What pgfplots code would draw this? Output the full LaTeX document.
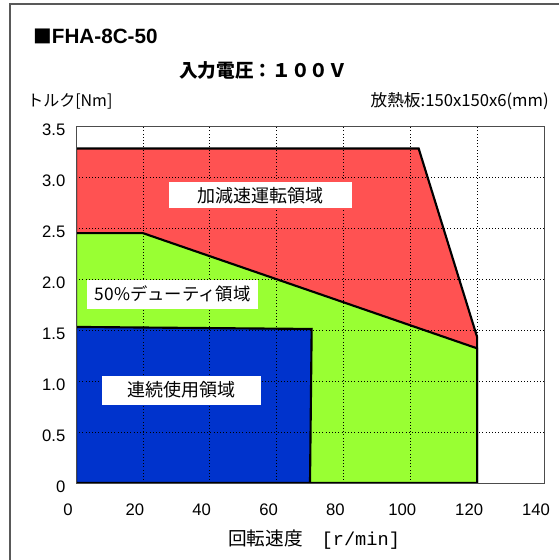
\documentclass[border=0pt]{standalone}
\usepackage{fontspec}
\setmainfont{Liberation Sans}
\newfontfamily\jp{Noto Sans CJK JP}
\newfontfamily\mono{Liberation Mono}
\usepackage{pgfplots}
\pgfplotsset{compat=1.18}
\definecolor{rred}{RGB}{255,82,82}
\definecolor{rgreen}{RGB}{153,255,51}
\definecolor{rblue}{RGB}{0,51,204}
\begin{document}
\begin{tikzpicture}[x=0.75pt,y=0.75pt]
\path[use as bounding box] (0,0) rectangle (559,560);
\draw[black!65, line width=0.8pt] (10,0) -- (10,556) -- (559,556);
\begin{axis}[at={(57pt,57.75pt)}, anchor=south west,
  scale only axis, width=351pt, height=267.75pt,
  xmin=0, xmax=140, ymin=0, ymax=3.5,
  xtick={0,20,...,140}, ytick={0,0.5,...,3.5},
  yticklabels={0,0.5,1.0,1.5,2.0,2.5,3.0,3.5},
  major tick length=0pt,
  grid=major, major grid style={black, dotted, line width=0.5pt},
  axis line style={black!70, line width=0.7pt},
  axis on top,
  /pgf/number format/assume math mode=true,
  tick label style={font=\fontsize{12.5}{14}\selectfont},
  xticklabel style={xshift=-6pt, yshift=-12pt},
  yticklabel style={xshift=-4.5pt, yshift=-3pt},
]
\addplot[fill=rred, draw=black, line width=1.6pt] coordinates {(0,0) (0,3.28) (102.5,3.28) (120,1.43) (120,0)} -- cycle;
\addplot[fill=rgreen, draw=black, line width=1.6pt] coordinates {(0,0) (0,2.45) (20,2.45) (120,1.32) (120,0)} -- cycle;
\addplot[fill=rblue, draw=black, line width=1.6pt] coordinates {(0,0) (0,1.53) (70.5,1.51) (70,0)} -- cycle;
\coordinate (lr) at (axis cs:55.2,2.82);
\coordinate (lg) at (axis cs:28.9,1.85);
\coordinate (lb) at (axis cs:31.6,0.91);
\end{axis}
\node[fill=white, minimum width=137pt, minimum height=19.5pt, inner sep=0pt, font=\jp\fontsize{13.5}{15}\selectfont] at (lr) {加減速運転領域};
\node[fill=white, minimum width=128pt, minimum height=21.75pt, inner sep=0pt, font=\jp\fontsize{13}{15}\selectfont] at (lg) {50\%デューティ領域};
\node[fill=white, minimum width=119pt, minimum height=21.75pt, inner sep=0pt, font=\jp\fontsize{13.5}{15}\selectfont] at (lb) {連続使用領域};
\node[anchor=west, inner sep=0pt] at (33,524) {{\jp\fontsize{14}{16}\selectfont ■}{\fontsize{15.5}{18}\selectfont\bfseries FHA-8C-50}};
\node[inner sep=0pt, font=\jp\bfseries\fontsize{14}{16}\selectfont] at (263,490) {入力電圧：１００Ｖ};
\node[anchor=west, inner sep=0pt, font=\jp\fontsize{12}{14}\selectfont] at (27,459) {トルク[Nm]};
\node[anchor=east, inner sep=0pt, font=\jp\fontsize{12.5}{14}\selectfont] at (549,459) {放熱板:150x150x6(mm)};
\node[anchor=west, inner sep=0pt, font=\jp\fontsize{14}{16}\selectfont] at (228,20) {回転速度　{\mono\fontsize{14}{16}\selectfont [r/min]}};
\end{tikzpicture}
\end{document}
